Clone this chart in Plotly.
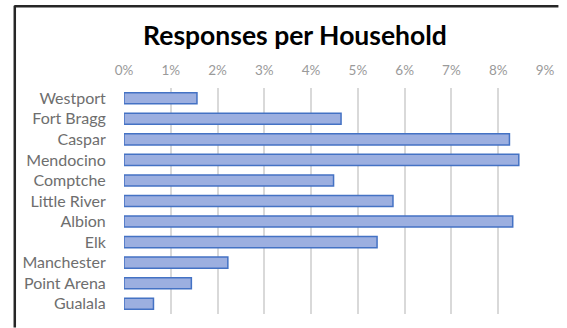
import plotly.graph_objects as go

categories = ["Westport", "Fort Bragg", "Caspar", "Mendocino", "Comptche", "Little River",
              "Albion", "Elk", "Manchester", "Point Arena", "Gualala"]
values = [0.0156, 0.0464, 0.0824, 0.0844, 0.0448, 0.0575, 0.0831, 0.0541, 0.0222, 0.0144, 0.0063]
tick_vals = [0, 0.01, 0.02, 0.03, 0.04, 0.05, 0.06, 0.07, 0.08, 0.09]
title_text = "Responses per Household"

W, H = 567, 328
L, R, T, B = 123.5, 13.7, 87.5, 13.5
pw, ph = W - L - R, H - T - B

def px_x(x):
    return (x - L) / pw

def px_y(y):
    return (H - B - y) / ph

fig = go.Figure(go.Bar(
    x=values, y=categories, orientation="h",
    marker=dict(color="#9cafe0", line=dict(color="#4472c4", width=1.5)),
))

fig.update_layout(
    width=W, height=H,
    margin=dict(l=L, r=R, t=T, b=B),
    paper_bgcolor="white", plot_bgcolor="white",
    bargap=0.46,
    showlegend=False,
    font=dict(family="Lato"),
    title=dict(text="<b>" + title_text + "</b>", x=295 / W, xref="container", xanchor="center",
               y=1 - 36 / H, yanchor="middle",
               font=dict(family="Lato", size=26.5, color="#000000")),
    xaxis=dict(range=[0, 0.09], side="top", tickvals=tick_vals, tickformat=".0%",
               showgrid=True, gridcolor="#d9d9d9", gridwidth=1.5, zeroline=False,
               showline=False, ticks="outside", ticklen=7, tickcolor="rgba(0,0,0,0)",
               tickfont=dict(size=13.5, color="#9a9a9a"), fixedrange=True),
    yaxis=dict(categoryorder="array", categoryarray=categories, autorange="reversed",
               showgrid=False, zeroline=False, showline=False,
               ticks="outside", ticklen=14, tickcolor="rgba(0,0,0,0)",
               tickfont=dict(size=16, color="#6e6e6e"), fixedrange=True),
    shapes=[
        dict(type="line", xref="paper", yref="paper", x0=px_x(11.5), x1=px_x(567), y0=px_y(5.5), y1=px_y(5.5),
             line=dict(color="#262626", width=2.5)),
        dict(type="line", xref="paper", yref="paper", x0=px_x(12), x1=px_x(12), y0=px_y(5), y1=px_y(328),
             line=dict(color="#262626", width=2.5)),
    ],
)

fig.write_html("out.html")
